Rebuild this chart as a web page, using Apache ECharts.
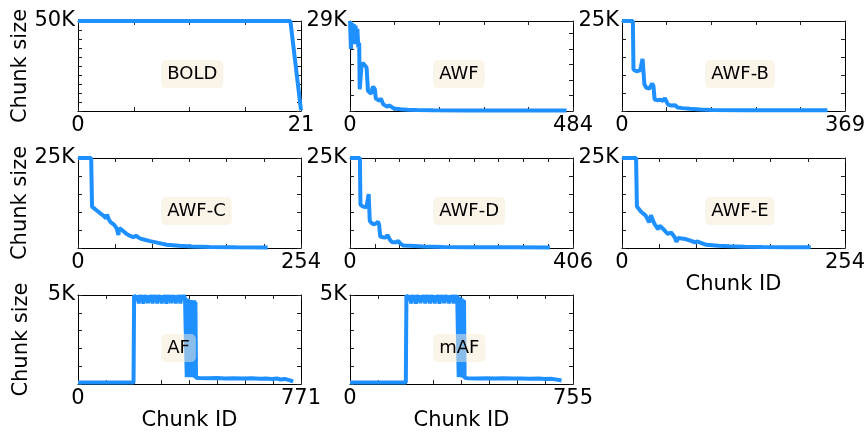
<!DOCTYPE html>
<html>
<head>
<meta charset="utf-8">
<script src="https://cdn.jsdelivr.net/npm/echarts@6/dist/echarts.min.js"></script>
<style>html,body{margin:0;padding:0;background:#fff;}#c{width:868px;height:432px;}</style>
</head>
<body>
<div id="c"></div>
<script>
// ---- panel meta ----
const panelNames = ['BOLD', 'AWF', 'AWF-B', 'AWF-C', 'AWF-D', 'AWF-E', 'AF', 'mAF'];
const xMaxes = [21, 484, 369, 254, 406, 254, 771, 755];
const xMaxLabels = ['21', '484', '369', '254', '406', '254', '771', '755'];
const xTickCounts = [4, 5, 5, 6, 9, 6, 8, 8];
const yMaxes = [50000, 29000, 25000, 25000, 25000, 25000, 5000, 5000];
const yMaxLabels = ['50K', '29K', '25K', '25K', '25K', '25K', '5K', '5K'];
const yTickSteps = [5000, 5000, 5000, 5000, 5000, 5000, 1000, 1000];
const yTitle = 'Chunk size';
const xTitle = 'Chunk ID';

// ---- series data (chunk id, chunk size) ----
const boldX = [0,1,2,3,4,5,6,7,8,9,10,11,12,13,14,15,16,17,18,19,20,21];
const boldY = [50000,50000,50000,50000,50000,50000,50000,50000,50000,50000,50000,50000,50000,50000,50000,50000,50000,50000,50000,50000,50000,400];

const awfX = [0,2,4,6,8,10,12,14,16,18,20,21,24,25,28,32,36,38,39,43,46,48,50,54,56,60,64,67,70,72,76,80,85,88,94,100,110,125,145,180,250,350,470];
const awfY = [29000,20000,28500,23500,28000,21500,27500,22500,26500,20500,22000,7000,6800,14500,15500,15000,14000,13500,6500,6000,5500,7000,7800,7000,4000,3600,3300,4000,3800,2200,1600,1400,1800,1200,900,700,550,400,300,250,200,180,160];

const awfBX = [0,18,19,24,30,33,34,35,37,40,45,48,50,52,54,58,64,68,71,73,76,82,88,92,100,112,130,150,200,280,340];
const awfBY = [25000,25000,11500,11000,11300,11000,14500,14000,7500,6500,6200,6300,7600,7000,3200,3000,3100,2800,3600,3200,1800,1500,1600,1000,800,600,400,300,220,200,180];

const awfCX = [0,15,16,21,26,29,32,33,35,37,41,44,46,47,50,55,58,60,63,66,71,76,82,90,101,115,130,150,180,216];
const awfCY = [25000,25000,11500,10500,9500,9000,8200,9300,8000,7200,6500,5500,3600,5500,5000,4000,3500,4000,3000,3400,2600,2300,1900,1500,900,600,450,300,200,120];

const awfDX = [0,18,19,24,30,33,34,35,36,40,45,48,51,53,55,60,65,68,70,73,77,84,88,91,97,109,133,170,212,300,364];
const awfDY = [25000,25000,12000,11500,11300,11800,15000,14500,7500,6800,6600,6700,7300,6500,3200,3000,2900,3600,3400,2200,1600,1600,2000,1300,700,650,400,300,200,180,150];

const awfEX = [0,16,17,22,27,29,31,33,35,37,41,43,47,52,56,60,62,64,66,72,77,83,86,96,110,122,140,160,190,215];
const awfEY = [25000,25000,11500,10000,9000,8600,7100,9100,7800,6700,5200,6200,5300,3900,4300,3000,1700,2800,3000,2500,2100,1600,1800,900,650,470,350,280,220,200];

const afX = [0,60,120,192,194,
  198,202,206,210,214,218,222,226,230,234,238,242,246,250,254,258,262,266,270,274,278,282,286,290,294,298,302,306,310,314,318,322,326,330,334,338,342,346,350,354,358,362,366,370,
  374,376,378,380,382,384,386,388,390,392,394,396,398,400,402,404,406,408,410,
  420,450,480,510,540,570,600,630,650,670,690,700,715,730,744];
const afY = [90,90,90,90,5000,
  5000,4730,4990,4530,5000,4720,4980,4510,5000,4740,4990,4540,4990,4720,5000,4520,5000,4730,4980,4530,5000,4710,4990,4520,4990,4740,5000,4510,5000,4720,4990,4540,5000,4730,4980,4520,4990,4720,5000,4530,5000,4730,4990,4800,
  4900,380,4800,420,4750,400,4700,380,4720,420,4700,400,4650,380,4700,360,4600,350,330,
  340,330,345,320,335,310,325,300,320,290,310,260,290,220,150];

const mafX = [0,60,120,189,191,
  195,199,203,207,211,215,219,223,227,231,235,239,243,247,251,255,259,263,267,271,275,279,283,287,291,295,299,303,307,311,315,319,323,327,331,335,339,343,347,351,355,359,363,
  366,368,370,372,374,376,378,380,382,384,386,388,390,
  400,430,460,490,520,550,580,610,640,660,680,700,716];
const mafY = [90,90,90,90,5000,
  5000,4730,4990,4530,5000,4720,4980,4510,5000,4740,4990,4540,4990,4720,5000,4520,5000,4730,4980,4530,5000,4710,4990,4520,4990,4740,5000,4510,5000,4720,4990,4540,5000,4730,4980,4520,4990,4720,5000,4530,5000,4730,4990,
  4950,400,4900,380,4850,400,4800,380,4750,360,4700,350,320,
  330,320,335,315,325,310,320,300,310,280,300,250,200];

const seriesX = [boldX, awfX, awfBX, awfCX, awfDX, awfEX, afX, mafX];
const seriesY = [boldY, awfY, awfBY, awfCY, awfDY, awfEY, afY, mafY];

// ---- layout / style ----
const FONT = 'DejaVu Sans';
const COL_LEFT = [78, 350, 622];
const ROW_TOP = [21, 158, 295];
const W = 223, H = 90;
const LINE_COLOR = '#1E90FF';
const showYName = [true, false, false, true, false, false, true, false];
const showXName = [false, false, false, false, false, true, true, true];

const grids = [], xAxes = [], yAxes = [], series = [], graphics = [];
const axisLineStyle = { show: true, onZero: false, lineStyle: { color: '#000', width: 1 } };

for (let i = 0; i < panelNames.length; i++) {
  const r = Math.floor(i / 3), c = i % 3;
  grids.push({ left: COL_LEFT[c], top: ROW_TOP[r], width: W, height: H });
  const xTicks = [];
  for (let k = 0; k <= xTickCounts[i]; k++) xTicks.push(xMaxes[i] * k / xTickCounts[i]);
  const xLabelText = xMaxLabels[i];
  const tickCommon = { show: true, inside: true, length: 4, lineStyle: { color: '#222', width: 1 } };
  xAxes.push({
    gridIndex: i, type: 'value', position: 'bottom', min: 0, max: xMaxes[i],
    axisLine: axisLineStyle,
    axisTick: Object.assign({}, tickCommon, { customValues: xTicks }),
    axisLabel: { show: true, customValues: [0, xMaxes[i]], margin: 4, color: '#000', fontFamily: FONT, fontSize: 21,
      formatter: v => (v === 0 ? '0' : xLabelText) },
    splitLine: { show: false },
    name: showXName[i] ? xTitle : '', nameLocation: 'middle', nameGap: 23,
    nameTextStyle: { color: '#000', fontFamily: FONT, fontSize: 21, verticalAlign: 'top' }
  });
  xAxes.push({
    gridIndex: i, type: 'value', position: 'top', min: 0, max: xMaxes[i],
    axisLine: axisLineStyle,
    axisTick: Object.assign({}, tickCommon, { customValues: xTicks }),
    axisLabel: { show: false }, splitLine: { show: false }
  });
  const yLabelText = yMaxLabels[i];
  yAxes.push({
    gridIndex: i, type: 'value', position: 'left', min: 0, max: yMaxes[i], interval: yTickSteps[i],
    axisLine: axisLineStyle,
    axisTick: tickCommon,
    axisLabel: { show: true, customValues: [yMaxes[i]], margin: 3, color: '#000', fontFamily: FONT, fontSize: 21,
      formatter: () => yLabelText },
    splitLine: { show: false },
    name: showYName[i] ? yTitle : '', nameLocation: 'middle', nameGap: 46,
    nameTextStyle: { color: '#000', fontFamily: FONT, fontSize: 21 }
  });
  yAxes.push({
    gridIndex: i, type: 'value', position: 'right', min: 0, max: yMaxes[i], interval: yTickSteps[i],
    axisLine: axisLineStyle,
    axisTick: tickCommon,
    axisLabel: { show: false }, splitLine: { show: false }
  });
  const xs = seriesX[i], ys = seriesY[i];
  series.push({
    type: 'line', xAxisIndex: 2 * i, yAxisIndex: 2 * i,
    data: xs.map((x, j) => [x, ys[j]]),
    showSymbol: false, symbol: 'none', silent: true, animation: false,
    lineStyle: { color: LINE_COLOR, width: 4, join: 'bevel' }
  });
  graphics.push({
    type: 'text', x: COL_LEFT[c] + 0.4 * W - 6, y: ROW_TOP[r] + 0.59 * H, z: 100,
    style: {
      text: panelNames[i], font: '18px "DejaVu Sans"', fill: '#000',
      align: 'left', verticalAlign: 'middle',
      backgroundColor: 'rgba(246,234,212,0.5)', padding: [5, 6, 5, 6], borderRadius: 5
    }
  });
}

const chart = echarts.init(document.getElementById('c'), null, { renderer: 'canvas' });
chart.setOption({
  animation: false,
  backgroundColor: '#fff',
  grid: grids, xAxis: xAxes, yAxis: yAxes, series: series, graphic: graphics
});
</script>
</body>
</html>
